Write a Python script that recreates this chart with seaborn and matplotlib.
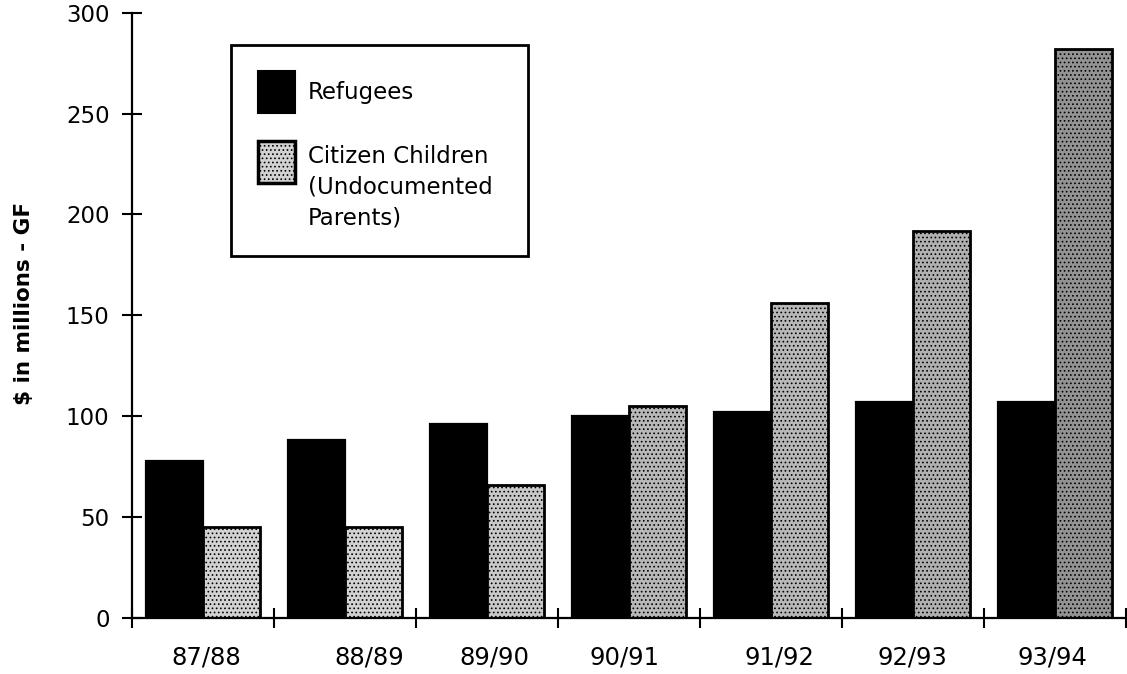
import matplotlib
matplotlib.use("Agg")
import matplotlib.pyplot as plt
import matplotlib.transforms as mtransforms
from matplotlib.patches import Rectangle
from matplotlib.legend_handler import HandlerPatch
from matplotlib.ticker import FixedLocator
import pandas as pd
import seaborn as sns

# General Fund costs, $ millions
years = ["87/88", "88/89", "89/90", "90/91", "91/92", "92/93", "93/94"]
refugees = [78, 88, 96, 100, 102, 107, 107]
citizen_children = [45, 45, 66, 105, 156, 192, 282]
series_names = ["Refugees", "Citizen Children\n(Undocumented\nParents)"]
y_ticks = [0, 50, 100, 150, 200, 250, 300]
y_label = r"\$ in millions - GF"

# stipple shades for the citizen-children bars (print gets darker on the taller ones)
citizen_shades = ["#d2d2d2", "#d2d2d2", "#c8c8c8", "#b8b8b8", "#b8b8b8", "#b0b0b0", "#939393"]
# small horizontal nudges (pixels) of the year labels
label_nudge_px = [4, 25, 8, -4, 9, 0, -2]

sns.set_theme(style="white")
plt.rcParams["font.family"] = ["DejaVu Sans"]
plt.rcParams["hatch.linewidth"] = 0.7
plt.rcParams["hatch.color"] = "#3a3a3a"

df = pd.DataFrame({
    "year": years * 2,
    "amount": refugees + citizen_children,
    "group": [series_names[0]] * len(years) + [series_names[1]] * len(years),
})

fig = plt.figure(figsize=(11.27, 6.74), dpi=100)
ax = fig.add_axes([0.1169, 0.0831, 0.882, 0.8981])

sns.barplot(
    data=df, x="year", y="amount", hue="group",
    order=years, hue_order=series_names,
    palette=["black", "#c8c8c8"], saturation=1, width=0.8,
    edgecolor="black", linewidth=1.6, legend=False, ax=ax,
)

for bar, shade in zip(ax.containers[1], citizen_shades):
    bar.set_facecolor(shade)
    bar.set_hatch("....")
    bar.set_linewidth(2.0)

ax.set_xlim(-0.5, len(years) - 0.5)
ax.set_ylim(0, 300)
ax.set_yticks(y_ticks)
ax.set_yticklabels([str(v) for v in y_ticks])
ax.set_xlabel("")
ax.set_ylabel(y_label, fontsize=15.5, fontweight="bold", color="black")
ax.yaxis.set_label_coords(-0.098, 0.52)

for side in ("top", "right"):
    ax.spines[side].set_visible(False)
for side in ("left", "bottom"):
    ax.spines[side].set_color("black")
    ax.spines[side].set_linewidth(1.6)

ax.tick_params(axis="y", which="major", direction="inout", length=14, width=1.5,
               color="black", labelsize=16.5, labelcolor="black", pad=9, left=True)
ax.xaxis.set_minor_locator(FixedLocator([i - 0.5 for i in range(len(years) + 1)]))
ax.tick_params(axis="x", which="minor", direction="inout", length=14, width=1.5,
               color="black", bottom=True)
ax.tick_params(axis="x", which="major", length=0, labelsize=17.5,
               labelcolor="black", pad=20)

for lbl, dx in zip(ax.get_xticklabels(), label_nudge_px):
    lbl.set_transform(lbl.get_transform()
                      + mtransforms.ScaledTranslation(dx / 100, 0, fig.dpi_scale_trans))


def raised_box(legend, orig_handle, xdescent, ydescent, width, height, fontsize):
    # square aligned with the first line of a multi-line label
    return Rectangle((-xdescent, -ydescent + 19.5), width, height)


ref_handle = Rectangle((0, 0), 1, 1, facecolor="black", edgecolor="black", linewidth=1.5)
cit_handle = Rectangle((0, 0), 1, 1, facecolor="#d2d2d2", edgecolor="black",
                       linewidth=2.5, hatch="....")
leg = ax.legend(
    [ref_handle, cit_handle], series_names,
    loc="upper left", bbox_to_anchor=(0.100, 0.847, 0.299, 0.1), mode="expand",
    fontsize=16.5, frameon=True, fancybox=False, shadow=False,
    handlelength=1.65, handleheight=2.44, handletextpad=0.55,
    borderpad=1.15, labelspacing=1.38, borderaxespad=0,
    handler_map={cit_handle: HandlerPatch(patch_func=raised_box)},
)
leg.get_frame().set_edgecolor("black")
leg.get_frame().set_linewidth(2.0)
leg.get_frame().set_facecolor("white")
leg.get_frame().set_alpha(1)
for t in leg.get_texts():
    t.set_linespacing(1.45)
    t.set_color("black")

fig.savefig("out.png", dpi=100, facecolor="white")
